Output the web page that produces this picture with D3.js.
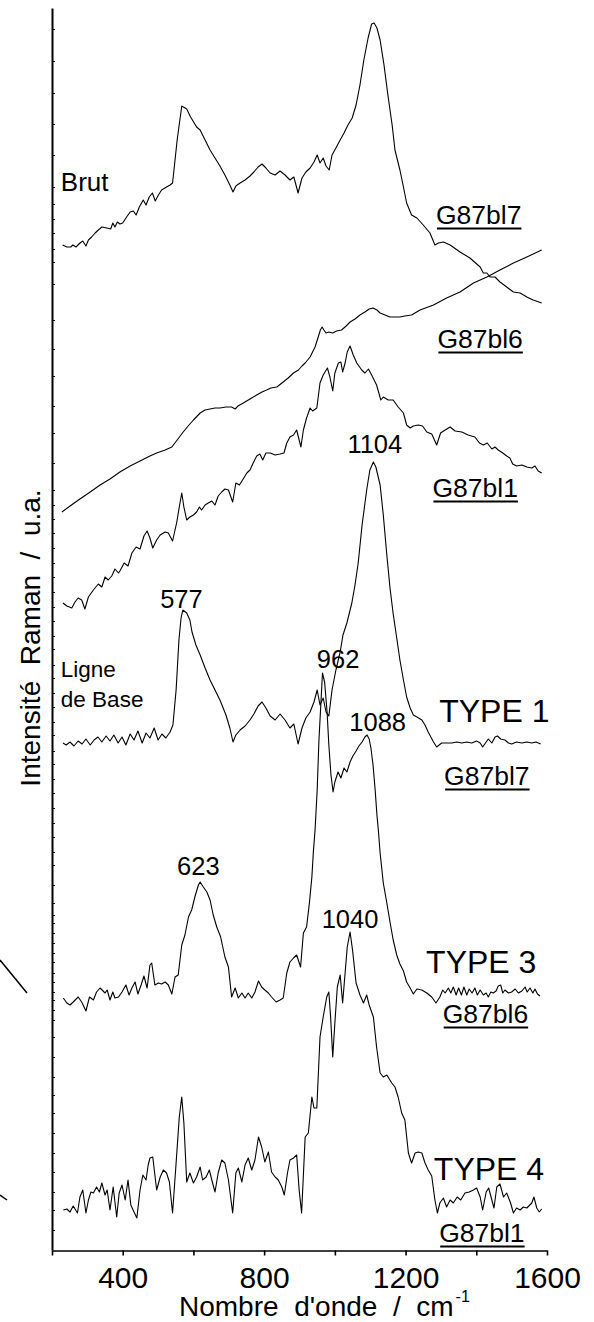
<!DOCTYPE html>
<html><head><meta charset="utf-8">
<script src="https://cdn.jsdelivr.net/npm/d3@7"></script>
<style>
body{margin:0;background:#fff}
text{font-family:"Liberation Sans",Arial,Helvetica,sans-serif;fill:#000}
</style>
</head><body>
<svg id="c" width="594" height="1322"></svg>
<script>
// ---- data (wavenumber cm-1, Raman intensity a.u., stacked offsets included) ----
const brut7 = [[230,1005],[242,1003],[253,1003],[259,1005],[268,1003],[279,1007],[287,1009],[296,1004],[303,1010],[312,1013],[322,1017],[331,1020],[341,1023],[355,1022],[366,1021],[372,1027],[378,1023],[385,1028],[392,1026],[400,1027],[411,1033],[421,1038],[430,1039],[438,1035],[447,1043],[458,1050],[466,1045],[475,1053],[484,1057],[492,1049],[501,1055],[510,1060],[524,1063],[534,1065],[541,1067],[554,1110],[567,1144],[581,1141],[592,1133],[609,1123],[619,1120],[633,1110],[647,1100],[661,1092],[675,1084],[689,1075],[703,1065],[712,1058],[720,1064],[732,1067],[746,1070],[760,1074],[771,1078],[783,1083],[794,1086],[805,1082],[817,1077],[831,1075],[845,1079],[859,1075],[873,1070],[884,1073],[896,1057],[907,1072],[918,1078],[930,1082],[941,1088],[950,1095],[958,1087],[967,1092],[975,1084],[984,1080],[992,1095],[1003,1102],[1015,1110],[1026,1117],[1037,1125],[1049,1132],[1060,1145],[1071,1165],[1082,1190],[1094,1212],[1104,1226],[1111,1227],[1119,1222],[1128,1210],[1139,1185],[1150,1155],[1162,1125],[1170,1100],[1184,1080],[1194,1063],[1203,1047],[1217,1035],[1232,1032],[1250,1025],[1269,1017],[1283,1005],[1293,1007],[1307,1008],[1326,1005],[1354,998],[1382,992],[1411,983],[1420,977],[1430,977],[1439,973],[1453,973],[1467,968],[1486,963],[1505,958],[1524,957],[1543,953],[1561,950],[1585,947]];
const brut6 = [[228,738],[251,744],[279,751],[308,758],[336,765],[364,771],[392,778],[421,784],[449,789],[477,794],[496,797],[520,800],[539,803],[554,810],[571,818],[585,824],[600,830],[619,837],[633,840],[647,841],[661,842],[675,842],[692,843],[708,843],[718,841],[726,844],[741,847],[760,851],[779,855],[794,858],[807,860],[819,862],[836,863],[854,868],[868,872],[883,877],[897,880],[907,884],[916,887],[930,893],[944,903],[953,913],[959,920],[964,923],[969,920],[975,917],[983,918],[994,917],[1005,919],[1019,920],[1032,924],[1043,928],[1057,931],[1071,935],[1085,938],[1097,941],[1108,942],[1119,940],[1128,937],[1142,935],[1156,933],[1170,933],[1184,933],[1198,934],[1217,935],[1241,940],[1279,945],[1316,952],[1354,958],[1392,967],[1430,973],[1467,980],[1505,987],[1543,993],[1585,1000]];
const brut1 = [[231,647],[242,644],[256,642],[265,648],[274,652],[284,650],[293,641],[303,653],[317,660],[331,666],[341,663],[350,673],[359,670],[369,674],[378,681],[388,677],[392,679],[404,687],[415,684],[426,697],[438,703],[449,701],[460,714],[469,719],[477,712],[485,702],[496,710],[506,715],[520,718],[529,717],[541,709],[553,728],[560,743],[567,757],[573,743],[581,730],[590,733],[600,735],[609,738],[617,743],[623,740],[633,745],[642,747],[652,749],[661,745],[670,754],[680,758],[689,761],[699,760],[711,748],[720,767],[730,765],[739,770],[751,777],[760,780],[769,787],[779,794],[788,796],[796,790],[805,797],[817,797],[831,795],[845,796],[856,797],[864,807],[873,813],[883,815],[892,820],[899,810],[904,803],[911,820],[920,832],[930,842],[937,839],[949,842],[958,867],[967,875],[979,882],[986,873],[994,859],[1000,877],[1010,887],[1017,888],[1022,878],[1029,887],[1035,898],[1043,904],[1052,895],[1062,887],[1076,880],[1085,877],[1095,881],[1104,875],[1118,865],[1130,850],[1137,853],[1151,850],[1165,850],[1179,843],[1194,837],[1203,825],[1213,822],[1222,824],[1236,825],[1248,824],[1260,818],[1274,816],[1288,805],[1299,817],[1312,820],[1326,823],[1340,819],[1359,818],[1377,815],[1396,813],[1409,807],[1420,805],[1431,807],[1444,801],[1453,803],[1462,800],[1475,797],[1486,794],[1495,792],[1503,786],[1514,784],[1529,785],[1543,783],[1557,782],[1566,784],[1575,779],[1585,777]];
const type1 = [[231,507],[240,505],[251,508],[262,504],[274,509],[285,506],[296,511],[308,505],[319,510],[330,513],[341,508],[353,514],[364,509],[375,515],[387,507],[398,513],[409,505],[421,516],[432,510],[443,519],[455,507],[466,517],[477,512],[489,522],[500,510],[511,516],[522,512],[534,518],[542,525],[551,560],[559,610],[565,632],[570,640],[581,637],[590,630],[596,618],[607,605],[619,595],[633,582],[647,570],[661,560],[675,550],[692,535],[703,522],[712,508],[720,515],[732,520],[746,524],[760,530],[771,536],[783,544],[794,548],[805,542],[817,534],[831,530],[845,536],[859,530],[873,522],[884,526],[896,506],[907,522],[918,532],[930,538],[941,548],[950,560],[958,545],[967,552],[975,538],[983,534],[992,560],[1003,580],[1015,598],[1023,615],[1034,627],[1048,647],[1057,665],[1066,687],[1077,725],[1090,760],[1099,780],[1109,788],[1116,783],[1128,765],[1137,735],[1147,695],[1156,662],[1165,636],[1175,612],[1184,590],[1194,570],[1203,553],[1213,542],[1222,535],[1232,533],[1246,530],[1255,525],[1264,518],[1279,508],[1288,503],[1302,507],[1316,507],[1331,507],[1345,508],[1359,507],[1373,508],[1387,507],[1401,509],[1411,507],[1418,503],[1428,508],[1434,511],[1444,507],[1453,513],[1460,514],[1469,511],[1481,510],[1491,507],[1500,506],[1514,508],[1529,507],[1543,508],[1557,507],[1569,508],[1582,506]];
const type3 = [[232,252],[242,247],[251,245],[260,248],[274,253],[284,248],[296,239],[306,253],[317,250],[326,258],[336,262],[350,257],[356,260],[364,250],[372,258],[378,252],[388,253],[398,258],[409,265],[418,255],[426,262],[435,268],[443,256],[452,265],[460,274],[469,262],[477,285],[482,287],[491,265],[501,267],[510,266],[520,268],[529,265],[539,256],[548,273],[557,275],[567,305],[576,315],[586,333],[595,340],[604,353],[614,365],[619,368],[628,363],[638,358],[647,350],[656,335],[666,323],[677,313],[689,293],[699,283],[708,253],[718,262],[727,252],[737,257],[746,252],[755,257],[765,252],[774,258],[784,269],[793,263],[802,260],[812,257],[821,253],[834,248],[845,250],[854,252],[864,277],[873,288],[883,292],[892,295],[903,283],[911,317],[920,323],[928,347],[935,373],[939,397],[944,420],[950,460],[955,510],[961,550],[965,577],[971,568],[978,538],[983,505],[989,475],[995,458],[1000,468],[1009,478],[1017,472],[1026,482],[1034,478],[1043,488],[1051,494],[1060,499],[1068,504],[1077,508],[1085,513],[1091,515],[1097,511],[1102,502],[1108,485],[1114,460],[1119,435],[1123,420],[1128,397],[1137,367],[1147,347],[1156,328],[1165,310],[1175,295],[1184,286],[1194,279],[1203,268],[1213,262],[1222,256],[1232,261],[1246,260],[1260,257],[1274,253],[1286,247],[1297,253],[1305,260],[1312,257],[1321,262],[1328,257],[1335,263],[1343,255],[1350,262],[1358,255],[1365,263],[1373,255],[1380,261],[1388,257],[1396,262],[1403,255],[1411,260],[1420,255],[1428,257],[1434,253],[1441,258],[1448,257],[1456,259],[1462,264],[1469,265],[1475,257],[1481,260],[1491,257],[1500,258],[1510,261],[1519,257],[1529,259],[1538,263],[1544,258],[1552,262],[1560,257],[1566,261],[1573,256],[1580,254]];
const type4 = [[232,40],[242,41],[251,38],[260,44],[272,37],[279,53],[287,60],[296,37],[303,50],[310,58],[317,57],[326,63],[334,58],[341,67],[350,55],[356,60],[364,40],[373,63],[383,33],[390,57],[398,65],[407,50],[415,70],[423,45],[432,38],[440,32],[449,60],[457,75],[466,70],[472,85],[477,92],[485,93],[496,60],[506,73],[515,80],[524,77],[532,68],[541,37],[551,87],[560,133],[567,153],[573,127],[581,68],[590,77],[600,67],[609,73],[619,83],[626,70],[636,73],[645,80],[652,70],[661,58],[670,77],[680,90],[689,87],[699,70],[711,37],[720,77],[727,82],[737,68],[746,85],[755,92],[765,80],[774,90],[784,113],[793,103],[802,88],[812,98],[821,78],[831,73],[840,70],[850,63],[857,55],[866,77],[873,90],[883,92],[892,95],[899,60],[906,37],[916,113],[925,117],[935,153],[941,142],[949,142],[958,213],[967,233],[977,253],[983,258],[988,233],[994,193],[1000,227],[1007,263],[1015,275],[1022,247],[1029,277],[1035,303],[1043,318],[1050,300],[1060,267],[1071,255],[1081,247],[1090,255],[1097,245],[1109,233],[1118,203],[1128,177],[1137,173],[1147,175],[1161,167],[1170,163],[1179,153],[1189,137],[1198,130],[1208,97],[1217,87],[1227,97],[1236,98],[1246,97],[1255,87],[1264,80],[1274,74],[1283,50],[1290,37],[1297,47],[1307,52],[1316,43],[1326,50],[1335,47],[1346,53],[1356,50],[1368,57],[1380,58],[1392,60],[1401,62],[1411,53],[1418,40],[1428,58],[1435,62],[1444,50],[1450,42],[1458,63],[1467,66],[1477,53],[1486,57],[1497,47],[1505,37],[1514,42],[1524,40],[1533,43],[1543,42],[1557,47],[1563,53],[1571,42],[1578,38],[1585,41]];

const xTickValues = [200,400,600,800,1000,1200,1400,1600];
const xTickLabels = [400,800,1200,1600];
const yTickValues = [1221,1189,1157,1126,1095,1063,1046,1031,1017,1001,988,966,930,901,874,844,817,787,760,745,731,717,702,687,673,658,643,629,614,601,585,572,557,543,528,515,499,486,471,457,442,427,413,398,385,365,347,335,327,317,307,297,288,277,268,258,250,240,230,213,193,173,155,137,117,97,78,58,40,20];

const sampleNames = ["G87bl7","G87bl6","G87bl1","G87bl7","G87bl6","G87bl1"];
const typeNames = ["TYPE 1","TYPE 3","TYPE 4"];
const peakNames = ["577","1104","962","1088","623","1040"];

// ---- drawing ----
const svg = d3.select("#c");
const x = d3.scaleLinear().domain([200,1600]).range([52,547]);
const y = d3.scaleLinear().domain([0,1242]).range([1250,8]);
const FONT = '"Liberation Sans",Arial,Helvetica,sans-serif';

const line = d3.line().x(d => x(d[0])).y(d => y(d[1]));
svg.append("g").selectAll("path")
  .data([brut7, brut6, brut1, type1, type3, type4])
  .join("path")
  .attr("d", line).attr("fill","none").attr("stroke","#000")
  .attr("stroke-width",1.1).attr("stroke-linejoin","round");

// axes
const gx = svg.append("g").attr("transform","translate(0,1250.5)")
  .call(d3.axisBottom(x).tickValues(xTickValues).tickSize(5).tickSizeOuter(0).tickPadding(11)
    .tickFormat(d => xTickLabels.includes(d) ? String(d) : ""));
gx.attr("font-family", FONT).attr("font-size", 30);
gx.select(".domain").attr("stroke-width",1.6);
gx.selectAll(".tick line").attr("stroke-width",1.6);

const gy = svg.append("g").attr("transform","translate(52,0)")
  .call(d3.axisLeft(y).tickValues(yTickValues).tickSize(-3).tickSizeOuter(0).tickFormat(""));
gy.select(".domain").attr("stroke-width",2);
gy.selectAll(".tick line").attr("stroke-width",1);

// axis titles
svg.append("text").attr("x",179).attr("y",1316).attr("font-size",28)
  .style("white-space","pre")
  .text("Nombre  d'onde  /  cm")
  .append("tspan").attr("font-size",16).attr("dy",-14).attr("dx",2).text("-1");

svg.append("text").attr("transform","translate(40,638) rotate(-90)")
  .attr("text-anchor","middle").attr("font-size",28).style("white-space","pre")
  .text("Intensité  Raman  /  u.a.");

// sample labels (underlined)
const samplePos = [[1286,1026],[1290,902],[1276,753],[1309,465],[1305,227],[1295,8]];
sampleNames.forEach((n,i) => {
  const t = svg.append("text").attr("x", x(samplePos[i][0])).attr("y", y(samplePos[i][1]))
    .attr("font-size",26.5).text(n);
  const w = t.node().getComputedTextLength();
  svg.append("line").attr("x1", x(samplePos[i][0])+1).attr("x2", x(samplePos[i][0])+w)
    .attr("y1", y(samplePos[i][1])+4.5).attr("y2", y(samplePos[i][1])+4.5)
    .attr("stroke","#000").attr("stroke-width",2);
});

// type labels
const typePos = [[1295,528],[1258,277],[1280,70]];
typeNames.forEach((n,i) => {
  svg.append("text").attr("x", x(typePos[i][0])).attr("y", y(typePos[i][1]))
    .attr("font-size",32).text(n);
});

// peak labels
const peakPos = [[566,642],[1113,797],[1009,582],[1121,519],[614,375],[1043,322]];
peakNames.forEach((n,i) => {
  svg.append("text").attr("x", x(peakPos[i][0])).attr("y", y(peakPos[i][1]))
    .attr("text-anchor","middle").attr("font-size",25.5).text(n);
});

// other annotations
svg.append("text").attr("x", x(225)).attr("y", y(1059)).attr("font-size",26).text("Brut");
svg.append("text").attr("x", x(225)).attr("y", y(573)).attr("font-size",22.5).text("Ligne");
svg.append("text").attr("x", x(225)).attr("y", y(543)).attr("font-size",22.5).text("de Base");

// stray marks at the left margin
svg.append("path").attr("d","M0,960L27,993").attr("stroke","#000").attr("stroke-width",1.5);
svg.append("path").attr("d","M0,1195L7,1200").attr("stroke","#000").attr("stroke-width",1.5);
</script>
</body></html>
